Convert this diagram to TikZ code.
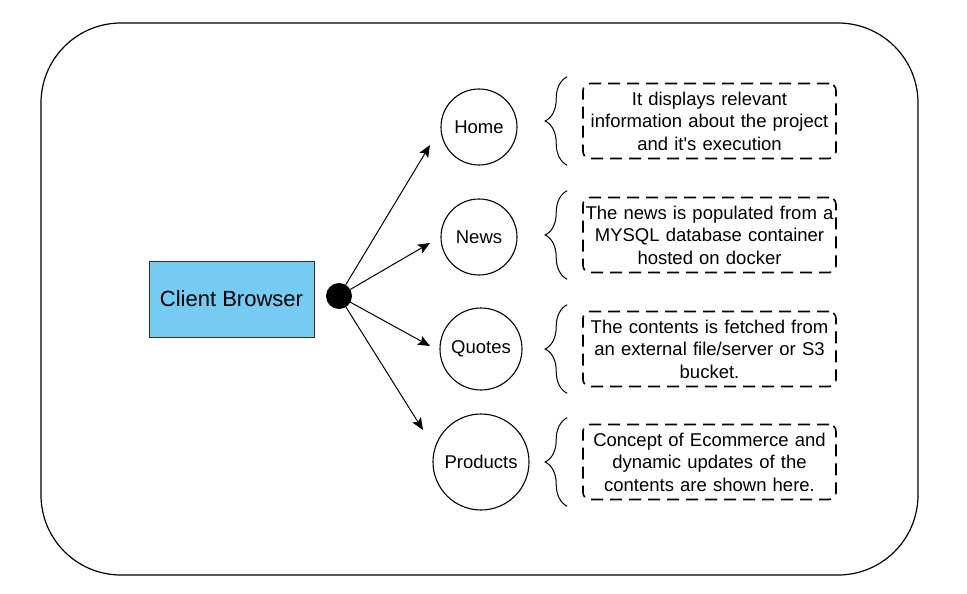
\documentclass[tikz,border=0pt]{standalone}
\usepackage{fontspec}
\setmainfont{Liberation Sans}
\usetikzlibrary{shapes,arrows.meta,positioning,calc,decorations.pathreplacing}
\definecolor{clientblue}{RGB}{118,203,243}
\tikzstyle{frame} = [draw,line width=1.2pt,rounded corners=80pt,minimum width=877pt,minimum height=552pt,inner sep=0]
\tikzstyle{client} = [draw=black!80,line width=1pt,fill=clientblue,minimum width=165pt,minimum height=76pt,inner sep=0,font=\fontsize{22}{26}\selectfont]
\tikzstyle{hub} = [circle,fill=black,minimum size=26pt,inner sep=0pt,outer sep=0pt]
\tikzstyle{page} = [draw,circle,line width=1.1pt,inner sep=0,font=\fontsize{18.5}{22}\selectfont]
\tikzstyle{note} = [draw,dash pattern=on 12pt off 7pt,line width=1.6pt,rounded corners=7pt,minimum height=75pt,inner sep=0,text width=253pt,align=center,font=\fontsize{18.5}{22.5}\selectfont]
\tikzstyle{link} = [-{Stealth[length=12pt,width=10pt,inset=2.5pt]},line width=1pt]
\tikzstyle{curly} = [decorate,decoration={brace,amplitude=22pt},line width=1pt]
\def \gap {15}

\begin{document}
\begin{tikzpicture}[x=1pt,y=-1pt]
      \useasboundingbox (0,0) rectangle (967,594);
      \node[frame] (frame) at (479.5,299) {};
      \node[client] (browser) at (231.5,299) {Client Browser};
      \node[hub] (hub) at (339,296) {};
      % pages
      \node[page,minimum size=76pt] (home) at (479,127) {Home};
      \node[page,minimum size=76pt] (news) at (479,237) {News};
      \node[page,minimum size=82pt] (quotes) at (481,349) {Quotes};
      \node[page,minimum size=96pt] (products) at (481,462) {Products};
      \coordinate (homeend) at (430,145);
      \coordinate (newsend) at (430,243);
      \coordinate (quotesend) at (430,346);
      \coordinate (productsend) at (423,430);
      \draw[link] (hub) -- (homeend);
      \draw[link] (hub) -- (newsend);
      \draw[link] (hub) -- (quotesend);
      \draw[link] (hub) -- (productsend);
      % notes
      \node[note] (homenote) at (709.5,121) {It displays relevant\\information about the project\\and it\textquotesingle s execution};
      \node[note] (newsnote) at (709.5,235) {The news is populated from a\\MYSQL database container\\hosted on docker};
      \node[note] (quotesnote) at (709.5,349) {The contents is fetched from\\an external file/server or S3\\bucket.};
      \node[note] (productsnote) at (709.5,462) {Concept of Ecommerce and\\dynamic updates of the\\contents are shown here.};
      \draw[curly] ($(homenote.south west)+(-\gap,6)$) -- ($(homenote.north west)+(-\gap,-6)$);
      \draw[curly] ($(newsnote.south west)+(-\gap,6)$) -- ($(newsnote.north west)+(-\gap,-6)$);
      \draw[curly] ($(quotesnote.south west)+(-\gap,6)$) -- ($(quotesnote.north west)+(-\gap,-6)$);
      \draw[curly] ($(productsnote.south west)+(-\gap,6)$) -- ($(productsnote.north west)+(-\gap,-6)$);
    \end{tikzpicture}
\end{document}
